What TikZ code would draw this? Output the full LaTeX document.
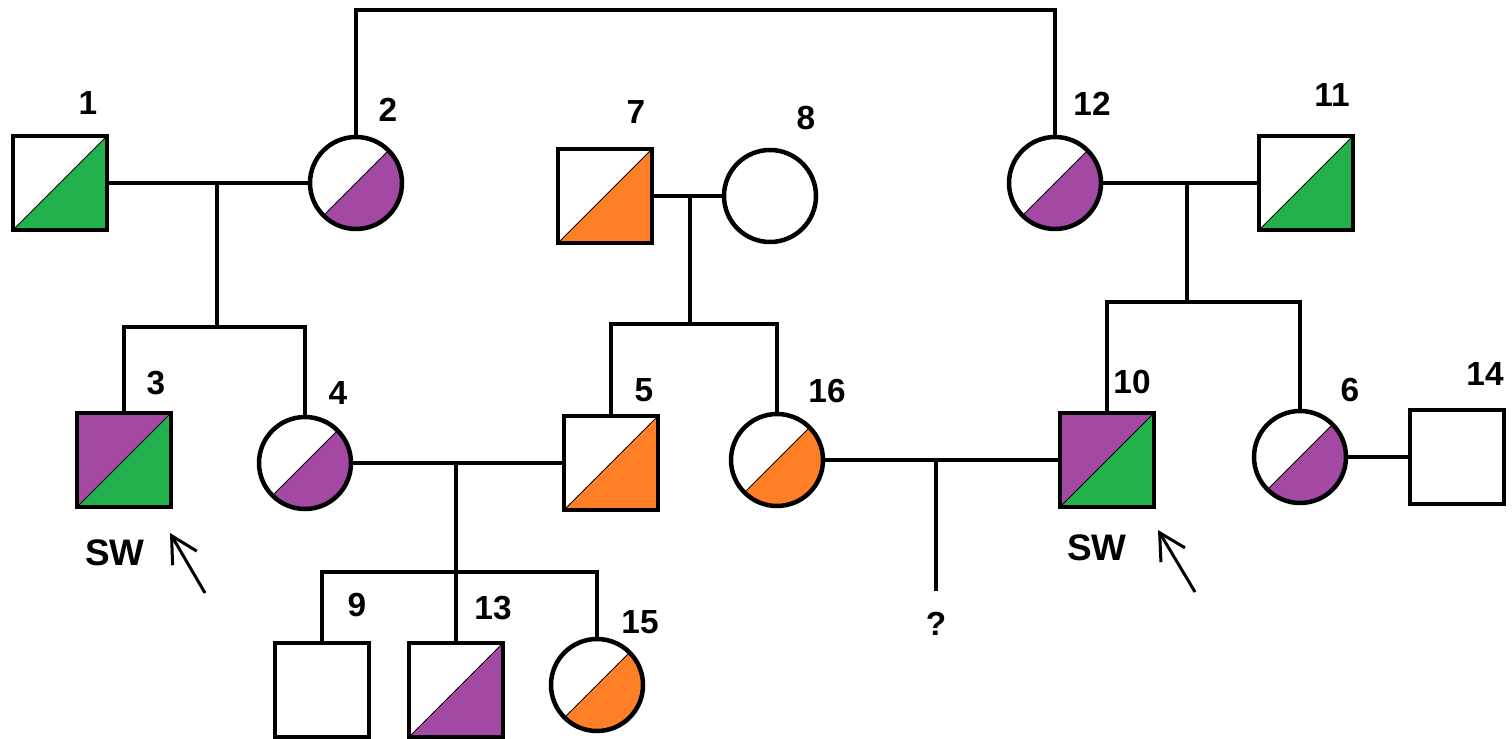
\documentclass[tikz,border=0pt]{standalone}
\usepackage{fontspec}
\setmainfont{Liberation Sans}
\usetikzlibrary{positioning, arrows.meta}

\definecolor{paintgreen}{HTML}{22B14C}
\definecolor{paintpurple}{HTML}{A349A4}
\definecolor{paintorange}{HTML}{FF7F27}

\begin{document}
\begin{tikzpicture}[x=0.1mm, y=-0.1mm, line width=0.45mm,
    male/.style={draw, rectangle, minimum size=9.4mm, inner sep=0, fill=white},
    female/.style={draw, circle, minimum size=9.2mm, inner sep=0, fill=white},
    half/.style={path picture={
        \fill[#1] (path picture bounding box.south west) -- (path picture bounding box.north east)
            -- (path picture bounding box.south east) -- cycle;
        \draw[line width=0.1mm] (path picture bounding box.south west) -- (path picture bounding box.north east);}},
    twohalf/.style 2 args={path picture={
        \fill[#1] (path picture bounding box.south west) -- (path picture bounding box.north east)
            -- (path picture bounding box.north west) -- cycle;
        \fill[#2] (path picture bounding box.south west) -- (path picture bounding box.north east)
            -- (path picture bounding box.south east) -- cycle;
        \draw[line width=0.1mm] (path picture bounding box.south west) -- (path picture bounding box.north east);}},
    num/.style={font=\bfseries\fontsize{9.5}{11}\selectfont, inner sep=0},
    sw/.style={font=\bfseries\fontsize{10.5}{12}\selectfont, inner sep=0},
    proband/.style={line width=0.3mm, -{Straight Barb[length=2.6mm, width=2.8mm]}}]

    \useasboundingbox (0,0) rectangle (1512,739);

    % generation I
    \node [male, half=paintgreen] (ind1) at (60,183) {};
    \node [female, half=paintpurple] (ind2) at (356,183) {};
    \node [male, half=paintorange] (ind7) at (605,196) {};
    \node [female] (ind8) at (770,196) {};
    \node [female, half=paintpurple] (ind12) at (1055,183) {};
    \node [male, half=paintgreen] (ind11) at (1306,183) {};

    % generation II
    \node [male, twohalf={paintpurple}{paintgreen}] (ind3) at (124,460) {};
    \node [female, half=paintpurple] (ind4) at (305,463) {};
    \node [male, half=paintorange] (ind5) at (611,463) {};
    \node [female, half=paintorange] (ind16) at (777,460) {};
    \node [male, twohalf={paintpurple}{paintgreen}] (ind10) at (1107,460) {};
    \node [female, half=paintpurple] (ind6) at (1300,457) {};
    \node [male] (ind14) at (1457,457) {};

    % generation III
    \node [male] (ind9) at (322,690) {};
    \node [male, half=paintpurple] (ind13) at (456,690) {};
    \node [female, half=paintorange] (ind15) at (597,685) {};
    \node [num, inner sep=1.9mm] (unborn) at (936,624) {?};

    % numbers
    \node [num] at (88,103) {1};
    \node [num] at (388,110) {2};
    \node [num] at (156,383) {3};
    \node [num] at (338,393) {4};
    \node [num] at (644,390) {5};
    \node [num] at (636,112) {7};
    \node [num] at (806,118) {8};
    \node [num] at (827,391) {16};
    \node [num] at (1132,382) {10};
    \node [num] at (1092,104) {12};
    \node [num] at (1332,95) {11};
    \node [num] at (1350,390) {6};
    \node [num] at (1485,374) {14};
    \node [num] at (357,605) {9};
    \node [num] at (493,608) {13};
    \node [num] at (640,622) {15};

    \node [sw] (sw3) at (115,553) {SW};
    \node [sw] (sw10) at (1097,548) {SW};

    % marriages and sibships
    \coordinate (top) at (0,10);
    \coordinate (m12) at (217,183);
    \coordinate (s12) at (217,327);
    \coordinate (m78) at (690,196);
    \coordinate (s78) at (690,324);
    \coordinate (m45) at (456,463);
    \coordinate (s45) at (456,572);
    \coordinate (m1211) at (1187,183);
    \coordinate (s1211) at (1187,302);
    \coordinate (m1610) at (936,460);

    \draw (ind2.north) |- (ind12 |- top) -- (ind12.north);
    \draw (ind1) -- (ind2);
    \draw (m12) -- (s12);
    \draw (ind3) |- (s12) -| (ind4);
    \draw (ind7) -- (ind8);
    \draw (m78) -- (s78);
    \draw (ind5) |- (s78) -| (ind16);
    \draw (ind12) -- (ind11);
    \draw (m1211) -- (s1211);
    \draw (ind10) |- (s1211) -| (ind6);
    \draw (ind4) -- (ind5);
    \draw (m45) -- (s45);
    \draw (ind9) |- (s45) -| (ind15);
    \draw (s45) -- (ind13);
    \draw (ind16) -- (ind10);
    \draw (m1610) -- (unborn);
    \draw (ind6) -- (ind14);

    % probands
    \coordinate (a3) at (205,593);
    \coordinate (b3) at (170,533);
    \coordinate (a10) at (1195,592);
    \coordinate (b10) at (1158,530);
    \draw [proband] (a3) -- (b3);
    \draw [proband] (a10) -- (b10);
\end{tikzpicture}
\end{document}
